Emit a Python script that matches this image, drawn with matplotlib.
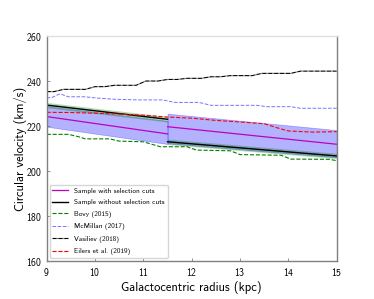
import matplotlib
matplotlib.use("Agg")
import matplotlib.pyplot as plt
import numpy as np

plt.rcParams['font.family'] = ['cmss10', 'DejaVu Sans']
plt.rcParams['axes.unicode_minus'] = False
plt.rcParams['axes.formatter.use_mathtext'] = True

# sample fits (two radial segments)
seg_r = [[9.0, 11.5], [11.5, 15.0]]
v_cuts = [[224.2, 216.5], [219.7, 211.9]]
v_cuts_hi = [[228.9, 222.3], [225.5, 218.2]]
v_cuts_lo = [[219.7, 212.0], [212.3, 206.1]]
v_nocuts = [[229.3, 223.0], [213.0, 206.7]]
v_nocuts_err = 1.2

# literature curves
bovy_r = [9.0, 9.45, 9.65, 9.8, 10.3, 10.5, 11.0, 11.35, 11.9, 12.1, 12.8, 13.0, 13.85, 14.05, 14.85, 15.0]
bovy_v = [216.3, 216.3, 215.3, 214.3, 214.3, 213.3, 213.0, 210.8, 210.8, 209.3, 209.0, 207.3, 207.0, 205.3, 205.2, 204.6]

mcm_r = [9.0, 9.1, 9.25, 9.3, 9.45, 9.8, 9.95, 10.4, 10.9, 11.4, 11.65, 12.15, 12.4, 13.35, 13.55, 14.05, 14.25, 15.0]
mcm_v = [232.6, 232.6, 234.1, 234.1, 233.0, 233.0, 232.6, 231.9, 231.6, 231.6, 230.5, 230.5, 229.2, 229.2, 228.6, 228.6, 227.9, 227.9]

vas_r = [9.0, 9.15, 9.35, 9.8, 10.0, 10.2, 10.4, 10.85, 11.05, 11.3, 11.5, 11.7, 11.9, 12.2, 12.4, 12.6, 12.8, 13.25, 13.45, 14.05, 14.25, 15.0]
vas_v = [235.3, 235.3, 236.3, 236.3, 237.5, 237.5, 238.1, 238.1, 240.0, 240.0, 240.7, 240.7, 241.2, 241.2, 241.9, 241.9, 242.4, 242.4, 243.4, 243.4, 244.4, 244.4]

eil_r = [9.0, 9.5, 10.0, 10.5, 11.0, 11.5, 12.0, 12.5, 13.0, 13.5, 13.8, 14.0, 14.5, 15.0]
eil_v = [226.1, 226.0, 225.7, 225.3, 224.8, 224.0, 223.5, 222.5, 221.8, 221.0, 219.0, 217.8, 217.3, 217.5]

fig = plt.figure(figsize=(3.74, 2.99), dpi=100)
ax = fig.add_axes([0.1249, 0.127, 0.7754, 0.7525])

for i in range(2):
    r = seg_r[i]
    ax.fill_between(r, v_cuts_lo[i], v_cuts_hi[i], color='blue', alpha=0.3, lw=0.5)
    ax.fill_between(r, np.array(v_nocuts[i]) - v_nocuts_err, np.array(v_nocuts[i]) + v_nocuts_err,
                    color='green', alpha=0.3, lw=0)
    ax.plot(r, v_cuts[i], color='m', lw=0.9, label='Sample with selection cuts' if i == 0 else None)
    ax.plot(r, v_nocuts[i], color='k', lw=1.0, label='Sample without selection cuts' if i == 0 else None)

ax.plot(bovy_r, bovy_v, '--', color='green', lw=0.8, label='Bovy (2015)')
ax.plot(mcm_r, mcm_v, '--', color='blue', lw=0.7, alpha=0.55, label='McMillan (2017)')
ax.plot(vas_r, vas_v, '--', color='k', lw=0.8, gapcolor='gray', label='Vasiliev (2018)')
ax.plot(eil_r, eil_v, '--', color='red', lw=0.8, label='Eilers et al. (2019)')

ax.set_xlim(9, 15)
ax.set_ylim(160, 260)
ax.set_xticks([9, 10, 11, 12, 13, 14, 15])
ax.set_yticks([160, 180, 200, 220, 240, 260])
ax.tick_params(labelsize=7, length=2, direction='in', color='gray', width=0.6)
ax.set_xlabel('Galactocentric radius (kpc)', fontsize=9, labelpad=2)
ax.set_ylabel('Circular velocity (km/s)', fontsize=9, labelpad=-1)

for s in ['left', 'right', 'bottom']:
    ax.spines[s].set_color('#808080')
ax.spines['top'].set_color('#e0e0e0')
for s in ax.spines.values():
    s.set_linewidth(1.0)

ax.legend(loc='lower left', fontsize=5.2, frameon=True, handlelength=2.2,
          borderaxespad=0.4, labelspacing=0.75)

fig.savefig('out.png', dpi=100)
